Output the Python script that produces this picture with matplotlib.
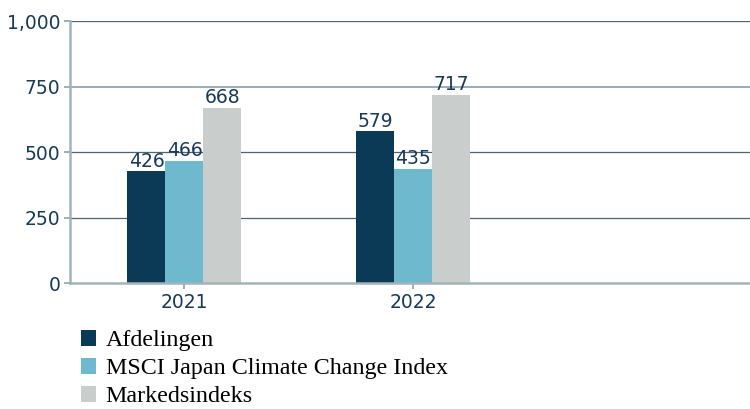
import matplotlib.pyplot as plt
import numpy as np

years = ["2021", "2022"]
series_names = ["Afdelingen", "MSCI Japan Climate Change Index", "Markedsindeks"]
afdelingen = [426, 579]
msci = [466, 435]
markedsindeks = [668, 717]
colors = ["#0b3a56", "#6fb9cf", "#c9cecd"]

text_color = "#17395a"
plt.rcParams["font.family"] = "DejaVu Sans"

fig = plt.figure(figsize=(7.5, 4.09), dpi=100)
ax = fig.add_axes([0.0933, 0.308, 0.9067, 0.6406])

x = np.arange(len(years))
width = 0.166
bars = []
for i, (vals, name) in enumerate(zip([afdelingen, msci, markedsindeks], series_names)):
    b = ax.bar(x + (i - 1) * width, vals, width, color=colors[i], label=name, zorder=3)
    bars.append(b)
    for rect, v in zip(b, vals):
        ax.text(rect.get_x() + rect.get_width() / 2, v + 3, str(v),
                ha="center", va="bottom", fontsize=13.5, color=text_color, zorder=4)

ax.set_xlim(-0.5, 2.47)
ax.set_ylim(0, 1000)
ax.set_xticks(x)
ax.set_xticklabels(years)
ax.set_yticks([0, 250, 500, 750, 1000])
ax.set_yticklabels(["0", "250", "500", "750", "1,000"])
ax.tick_params(axis="both", labelsize=13.5, labelcolor=text_color, color="#8fa2ae",
               length=4, width=1.2, pad=3)

# horizontal grid lines
for yv in [250, 500, 1000]:
    ax.axhline(yv, color="#4c6474", lw=0.9, zorder=1)
ax.axhline(750, color="#9aabb6", lw=1.4, zorder=1)

for s in ["top", "right"]:
    ax.spines[s].set_visible(False)
ax.spines["left"].set_color("#a3b3bc")
ax.spines["left"].set_linewidth(1.8)
ax.spines["bottom"].set_color("#a3b3bc")
ax.spines["bottom"].set_linewidth(1.8)
ax.spines["bottom"].set_zorder(5)

fig.legend(handles=bars, labels=series_names, loc="upper left",
           bbox_to_anchor=(0.108, 0.193), frameon=False,
           prop={"family": "Liberation Serif", "size": 17.3},
           handlelength=0.62, handleheight=0.62, handletextpad=0.4,
           labelspacing=0.28, borderaxespad=0, borderpad=0)

fig.savefig("out.png", dpi=100)
